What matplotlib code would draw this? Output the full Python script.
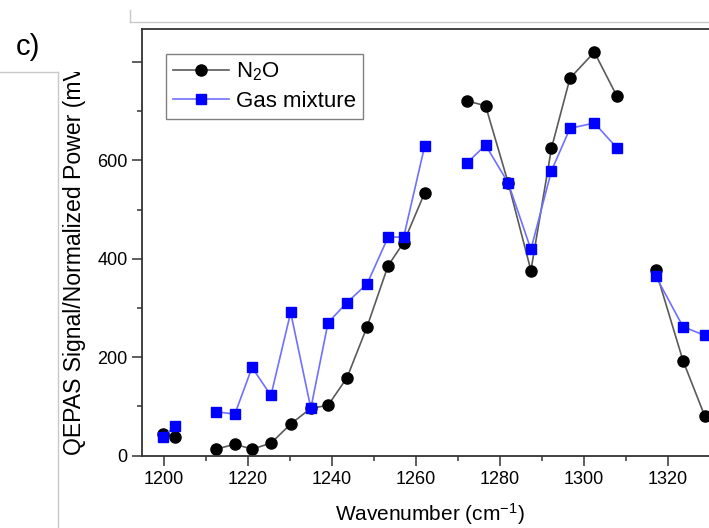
import numpy as np
import matplotlib
matplotlib.use("Agg")
import matplotlib.pyplot as plt
from matplotlib.lines import Line2D
from matplotlib.transforms import Bbox
from matplotlib.ticker import FixedLocator, FixedFormatter

plt.rcParams['font.family'] = ['Liberation Sans', 'DejaVu Sans']
plt.rcParams['mathtext.fontset'] = 'custom'
plt.rcParams['mathtext.rm'] = 'Liberation Sans'
plt.rcParams['mathtext.it'] = 'Liberation Sans:italic'
plt.rcParams['mathtext.bf'] = 'Liberation Sans:bold'

# wavenumber (cm^-1); NaN marks a break in the scan
wavenumber = [1199.8, 1202.6, np.nan,
              1212.5, 1216.9, 1221.0, 1225.5, 1230.2, 1235.0, 1239.1, 1243.6,
              1248.4, 1253.4, 1257.1, 1262.1, np.nan,
              1272.1, 1276.6, 1282.0, 1287.4, 1292.3, 1296.7, 1302.5, 1307.9, np.nan,
              1317.1, 1323.6, 1328.8]
n2o = [44, 37, np.nan,
       13, 23, 13, 25, 64, 96, 102, 158,
       262, 386, 433, 534, np.nan,
       721, 711, 554, 376, 625, 767, 820, 730, np.nan,
       377, 193, 80]
gas_mix = [38, 59, np.nan,
           89, 84, 179, 122, 291, 96, 270, 311,
           349, 444, 444, 629, np.nan,
           594, 631, 554, 419, 579, 665, 676, 625, np.nan,
           365, 262, 244]

x_major = [1200, 1220, 1240, 1260, 1280, 1300, 1320]
x_minor = [1210, 1230, 1250, 1270, 1290, 1310, 1330]
y_major = [0, 200, 400, 600, 800]
y_major_labels = ['0', '200', '400', '600', '']
y_minor = [100, 300, 500, 700]

W, H = 709, 528
fig = plt.figure(figsize=(W / 100, H / 100), dpi=100)

x0, x1 = 1194.8, 1350
ppu = 4.2  # pixels per wavenumber
axw = (x1 - x0) * ppu
ax = fig.add_axes([142 / W, 1 - 456 / H, axw / W, (456 - 29) / H])

ax.plot(wavenumber, n2o, color='#5a5a5a', lw=1.2, marker='o', ms=8,
        mfc='black', mec='black', label='N$_2$O')
ax.plot(wavenumber, gas_mix, color='#7070ff', lw=1.2, marker='s', ms=7,
        mfc='#0000ff', mec='#0000ff', label='Gas mixture')

ax.set_xlim(x0, x1)
ax.set_ylim(-1, 867)

ax.xaxis.set_major_locator(FixedLocator(x_major))
ax.xaxis.set_minor_locator(FixedLocator(x_minor))
ax.yaxis.set_major_locator(FixedLocator(y_major))
ax.yaxis.set_major_formatter(FixedFormatter(y_major_labels))
ax.yaxis.set_minor_locator(FixedLocator(y_minor))
ax.tick_params(which='both', direction='out', top=False, right=False,
               labelsize=13, width=1.1, color='#333333')
ax.tick_params(which='major', length=7, pad=3.5)
ax.tick_params(which='minor', length=3.5)
for s in ax.spines.values():
    s.set_linewidth(1.3)
    s.set_color('#333333')

ax.set_xlabel('Wavenumber (cm$^{-1}$)', fontsize=15)
ax.xaxis.set_label_coords((430 - 142) / axw, -0.106)

# the slide crops the y label at the top of the neighbouring panel frame
ylab = ax.set_ylabel('QEPAS Signal/Normalized Power (mV/W)', fontsize=16.6,
                     ha='left', va='center', rotation_mode='anchor')
ax.yaxis.set_label_coords((74 - 142) / axw, 0.002)
ylab.set_clip_box(Bbox.from_extents(0, 0, W, H - 72))
ylab.set_clip_on(True)

leg = ax.legend(loc='upper left',
                bbox_to_anchor=((166 - 142) / axw, (456 - 54) / 427),
                borderaxespad=0, fontsize=16, fancybox=False, framealpha=1,
                edgecolor='#808080', handlelength=2.55, handletextpad=0.3,
                labelspacing=0.35, borderpad=0.3)
leg.get_frame().set_linewidth(1.0)

# panel label and slide framing lines
fig.text(16 / W, 1 - 55 / H, 'c)', fontsize=21)
grey = '#c8c8c8'
fig.add_artist(Line2D([130 / W, 1], [1 - 22 / H] * 2, color=grey, lw=1))
fig.add_artist(Line2D([130 / W] * 2, [1 - 10 / H, 1 - 22 / H], color=grey, lw=1))
fig.add_artist(Line2D([0, 58 / W], [1 - 72 / H] * 2, color=grey, lw=1))
fig.add_artist(Line2D([58 / W] * 2, [1 - 72 / H, 0], color=grey, lw=1))

fig.savefig('out.png', dpi=100)
